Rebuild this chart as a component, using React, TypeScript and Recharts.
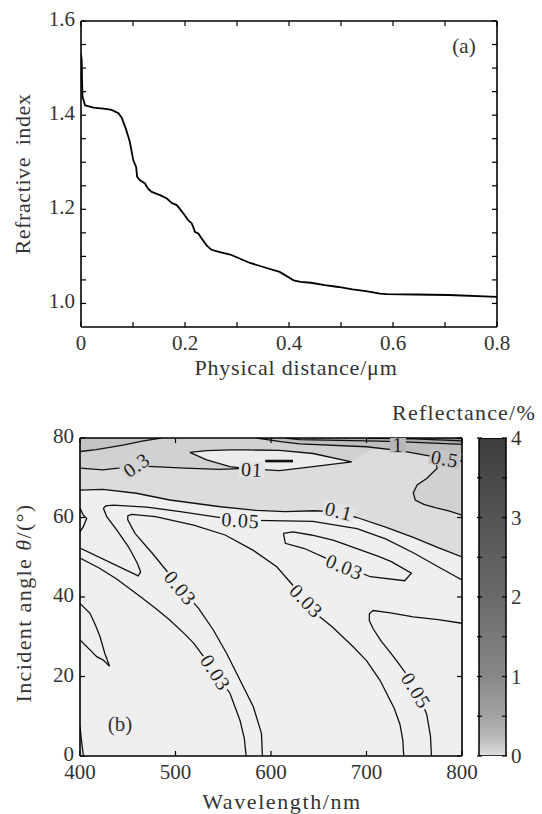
import {
  Area,
  Bar,
  CartesianGrid,
  ComposedChart,
  Line,
  LineChart,
  Scatter,
  XAxis,
  YAxis,
} from "recharts"

// ---- panel (a): refractive index vs physical distance ----
const distance = [
  0, 0.0013, 0.002, 0.003, 0.0077, 0.024, 0.043, 0.059, 0.072, 0.078, 0.085, 0.091, 0.094,
  0.0975, 0.1006, 0.106, 0.108, 0.113, 0.123, 0.129, 0.136, 0.152, 0.165, 0.174, 0.184, 0.19,
  0.197, 0.206, 0.213, 0.217, 0.219, 0.226, 0.232, 0.242, 0.251, 0.267, 0.287, 0.306, 0.325,
  0.349, 0.382, 0.409, 0.422, 0.442, 0.469, 0.495, 0.522, 0.548, 0.575, 0.588, 0.641, 0.707, 0.8,
]
const refIndex = [
  1.53, 1.517, 1.474, 1.439, 1.421, 1.416, 1.414, 1.411, 1.404, 1.395, 1.375, 1.354, 1.343,
  1.322, 1.304, 1.29, 1.269, 1.262, 1.255, 1.244, 1.237, 1.23, 1.223, 1.214, 1.209, 1.201,
  1.191, 1.177, 1.17, 1.159, 1.152, 1.148, 1.138, 1.123, 1.114, 1.109, 1.104, 1.095, 1.086,
  1.078, 1.067, 1.049, 1.046, 1.044, 1.039, 1.035, 1.03, 1.026, 1.021, 1.02, 1.019, 1.018, 1.014,
]
const distTicks = [0, 0.1, 0.2, 0.3, 0.4, 0.5, 0.6, 0.7, 0.8]
const distLabelled = [0, 0.2, 0.4, 0.6, 0.8]
const indexTicks = [1.0, 1.05, 1.1, 1.15, 1.2, 1.25, 1.3, 1.35, 1.4, 1.45, 1.5, 1.55, 1.6]
const indexLabelled = [1.0, 1.2, 1.4, 1.6]

// ---- panel (b): reflectance contours, [wavelength nm, angle deg] ----
const wlTicks = [400, 500, 600, 700, 800]
const angleTicks = [0, 20, 40, 60, 80]
const reflTicks = [0, 0.5, 1, 1.5, 2, 2.5, 3, 3.5, 4]
const reflLabelled = [0, 1, 2, 3, 4]

const contour01 = [
  [400, 66.9], [424, 67.1], [459, 66.1], [494, 64.4], [547, 62.7], [585, 61.8], [615, 61.5],
  [645, 61.7], [668, 61.5], [690, 60], [720, 57.6], [749, 55], [775, 52.4], [800, 50.1],
]
const contour005 = [
  [400, 52.3], [461, 45.3], [463.5, 46.3], [460, 48.5], [456, 50.3], [450.6, 52.7], [438.4, 56.9],
  [428, 60.2], [424.5, 62.3], [427, 62.9], [435, 63.1], [470, 62.6], [505, 61.5], [540, 60.2],
  [568, 59.3], [600, 59.2], [644, 59], [690, 57.2], [720, 54.6], [750, 51], [775, 47.6], [800, 44.3],
]
const contourU = [
  [591, 0], [590, 5.7], [581.5, 12.4], [567.5, 19.1], [553.6, 25.8], [539.6, 31.7], [524, 37.2],
  [505, 42.3], [490, 46.8], [475.7, 51], [457.6, 56], [450, 59.4], [450, 60.4], [454, 60.8],
  [479, 60.2], [519, 58.1], [552, 55.6], [581, 51.8], [606, 47.6], [630, 41], [651, 35],
  [664, 32.5], [686, 27.5], [700, 24], [714, 19.1], [729, 12], [735, 8], [738, 4], [739, 0],
]
const contourLow = [
  [400, 49.8], [420, 47.3], [438, 44.6], [463, 40.1], [480, 37], [494, 34.2], [510, 30.6],
  [519, 28.4], [530, 24.8], [542, 21], [557, 15.8], [567.5, 9], [572, 4.5], [574, 0],
]
const contourRight = [
  [768, 0], [767, 5], [763, 10.5], [758, 13.5], [752, 16.5], [745, 19.5], [733, 23.5], [725, 26],
  [715, 29], [707, 32], [703, 34], [703, 35.8], [707, 36.6], [725, 36], [749, 35], [775, 34.3],
  [800, 33.4],
]
const loop003 = [
  [613, 56], [615, 53.5], [635, 52.2], [662, 49.3], [679, 47.6], [704, 45.1], [740, 44.1],
  [747, 46], [726, 48.9], [714, 50.1], [679, 53.1], [665, 54.3], [642, 55.6], [623, 56.4], [613, 56],
]
const tongue = [
  [400, 38.4], [410.5, 35.9], [416, 33], [421, 30], [426, 25.8], [431, 22.6], [424, 24.2],
  [417.5, 25], [410.5, 26.7], [405, 28], [400, 29.2],
]
const edgeBump = [[400, 62.3], [403.5, 60.6], [407, 59.8], [403.5, 57.7], [400, 56.4]]
const cornerLine = [[400, 7.4], [401.5, 4], [403.5, 0]]
const line03 = [
  [400, 72.4], [424, 72], [440, 72.4], [459, 73], [477, 72.8], [510, 72.4], [546, 72.1], [567, 72.3],
]
const band03Edge = [
  [400, 72.4], [424, 72], [440, 72.4], [459, 73], [477, 72.8], [510, 72.4], [546, 72.1], [567, 72.3],
  [590, 71.9], [609, 71.8], [644, 72.8], [684.5, 74], [700, 76.5], [715, 78.5], [725, 80],
]
const wiggle03 = [
  [772, 74.6], [774, 72.4], [763, 69.8], [753, 68.2], [749, 66.2], [751, 64.4], [760, 63.3],
  [772, 62.5], [787, 61.6], [800, 60.6],
]
const lineTopLeft = [[400, 76.6], [417, 77.1], [445, 78.2], [465, 79.2], [485, 80]]
const line05 = [[585, 80], [610, 79.1], [630, 78.5], [700, 77.8], [735, 76.8], [770, 75.3], [800, 74.2]]
const line1 = [[615, 80], [630, 79.6], [700, 79.3], [733, 79.1], [800, 78.4]]
const line2 = [[700, 80], [750, 79.8], [800, 79.3]]
const loopWl = [515, 532.6, 557, 575, 609, 644, 684.5]
const loopTop = [76.4, 76.8, 77, 77, 76.9, 76.1, 74]
const loopBottom = [76.4, 74.5, 72.8, 72.3, 71.8, 72.8, 74]
const dashInLoop = [[594, 74.2], [623, 74.2]]

const labelText = ["0.3", "01", "0.1", "0.05", "0.03", "0.03", "0.03", "0.03", "0.05", "0.5", "1"]
const labelWl = [459, 580, 671, 568, 677, 505, 637, 542, 752, 782, 733]
const labelAng = [73.2, 72.1, 61.6, 59.3, 47.6, 42.3, 39, 21, 16.5, 74.8, 78.3]
const labelTilt = [-35, 3, 14, 4, 22, 50, 46, 57, 58, 10, 0]

// styles
const SERIF = "'Liberation Serif', 'Times New Roman', serif"
const INK = "#333"
const labelHalo = ["#d3d3d3", "#e4e4e4", "#e3e3e3", "#efefef", "#efefef", "#efefef", "#efefef", "#efefef", "#efefef", "#c4c4c4", "#b6b6b6"]

const profile = distance.map((d, i) => ({ d, n: refIndex[i] }))
const pts = (arr: number[][]) => arr.map(([wl, ang]) => ({ wl, ang }))
const band = (arr: number[][]) => arr.map(([wl, ang]) => ({ wl, band: [ang, 80] }))
const loopFill = loopWl.map((wl, i) => ({ wl, band: [loopBottom[i], loopTop[i]] }))
const loopLine = [
  ...loopWl.map((wl, i) => ({ wl, ang: loopTop[i] })),
  ...loopWl.map((wl, i) => ({ wl, ang: loopBottom[i] })).reverse(),
]
const labels = labelText.map((text, i) => ({
  text,
  wl: labelWl[i],
  ang: labelAng[i],
  tilt: labelTilt[i],
  halo: labelHalo[i],
}))

const near = (list: number[], v: number) => list.some((m) => Math.abs(m - v) < 1e-6)

function axisTick(
  side: "bottom" | "top" | "left" | "right",
  labelled: number[] = [],
  fmt: (v: number) => string = String,
  backTick = 0
) {
  return (p: any) => {
    const { x, y, payload } = p
    const v = payload.value as number
    const len = 5
    const dx = side === "left" ? len : side === "right" ? -len : 0
    const dy = side === "bottom" ? -len : side === "top" ? len : 0
    let label = null
    if (near(labelled, v)) {
      const common = { fontFamily: SERIF, fontSize: 21, fill: INK }
      if (side === "bottom")
        label = <text x={x} y={y + 23} textAnchor="middle" {...common}>{fmt(v)}</text>
      else if (side === "left")
        label = <text x={x - 6} y={y + 5} textAnchor="end" {...common}>{fmt(v)}</text>
      else if (side === "right")
        label = <text x={x + 4} y={y + 7} textAnchor="start" {...common}>{fmt(v)}</text>
    }
    return (
      <g>
        <line x1={x} y1={y} x2={x + dx} y2={y + dy} stroke="#000" strokeWidth={1.2} />
        {backTick > 0 && (
          <line x1={x - backTick} y1={y} x2={x - backTick + len} y2={y} stroke="#000" strokeWidth={1.2} />
        )}
        {label}
      </g>
    )
  }
}

function ContourLabel(p: any) {
  const { cx, cy, payload } = p
  if (cx == null || cy == null) return <g />
  const w = [...payload.text].reduce((s: number, ch: string) => s + (ch === "." ? 5 : 10), 0) + 6
  return (
    <g transform={`rotate(${payload.tilt} ${cx} ${cy})`}>
      <rect x={cx - w / 2} y={cy - 8} width={w} height={16} fill={payload.halo} />
      <text
        x={cx}
        y={cy}
        dy="0.35em"
        textAnchor="middle"
        fontFamily={SERIF}
        fontSize={20}
        letterSpacing={0.8}
        fill="#1e1e1e"
      >
        {payload.text}
      </text>
    </g>
  )
}

function Title({ x, y, rotate = 0, size = 22, spacing = 0, children }: any) {
  return (
    <div
      style={{
        position: "absolute",
        left: x,
        top: y,
        transform: `translate(-50%, -50%) rotate(${rotate}deg)`,
        fontFamily: SERIF,
        fontSize: size,
        letterSpacing: spacing,
        whiteSpace: "pre",
        lineHeight: 1,
        color: INK,
      }}
    >
      {children}
    </div>
  )
}

const frame = { stroke: "#000", strokeWidth: 1.6 }

function contourLine(key: string, arr: number[][], width = 1.3) {
  return (
    <Line
      key={key}
      data={pts(arr)}
      dataKey="ang"
      type="linear"
      stroke="#111"
      strokeWidth={width}
      dot={false}
      activeDot={false}
      isAnimationActive={false}
    />
  )
}

function fillArea(key: string, data: any[], color: string) {
  return (
    <Area
      key={key}
      data={data}
      dataKey="band"
      type="linear"
      stroke="none"
      fill={color}
      fillOpacity={1}
      dot={false}
      activeDot={false}
      isAnimationActive={false}
    />
  )
}

export default function App() {
  return (
    <div style={{ position: "absolute", left: 0, top: 0, width: 542, height: 814, background: "#fff" }}>
      {/* panel (a) */}
      <div style={{ position: "absolute", left: 0, top: 0 }}>
        <LineChart width={542} height={390} margin={{ top: 16, right: 40, bottom: 33, left: 41 }}>
          <XAxis
            xAxisId="b"
            type="number"
            dataKey="d"
            domain={[0, 0.8]}
            ticks={distTicks}
            interval={0}
            height={30}
            tickSize={0}
            tickMargin={0}
            tickLine={false}
            axisLine={frame}
            tick={axisTick("bottom", distLabelled, (v) => (v === 0 ? "0" : v.toFixed(1)))}
            allowDataOverflow
          />
          <XAxis
            xAxisId="t"
            orientation="top"
            type="number"
            dataKey="d"
            domain={[0, 0.8]}
            ticks={distTicks}
            interval={0}
            height={5}
            tickSize={0}
            tickMargin={0}
            tickLine={false}
            axisLine={frame}
            tick={axisTick("top")}
            allowDataOverflow
          />
          <YAxis
            yAxisId="l"
            type="number"
            domain={[0.95, 1.6]}
            ticks={indexTicks}
            interval={0}
            width={40}
            tickSize={0}
            tickMargin={0}
            tickLine={false}
            axisLine={frame}
            tick={axisTick("left", indexLabelled, (v) => v.toFixed(1))}
            allowDataOverflow
          />
          <YAxis
            yAxisId="r"
            orientation="right"
            type="number"
            domain={[0.95, 1.6]}
            ticks={indexTicks}
            interval={0}
            width={5}
            tickSize={0}
            tickMargin={0}
            tickLine={false}
            axisLine={frame}
            tick={axisTick("right")}
            allowDataOverflow
          />
          <Line
            xAxisId="t"
            yAxisId="r"
            data={profile}
            dataKey="n"
            stroke="none"
            dot={false}
            activeDot={false}
            isAnimationActive={false}
          />
          <Line
            xAxisId="b"
            yAxisId="l"
            data={profile}
            dataKey="n"
            type="linear"
            stroke="#000"
            strokeWidth={1.8}
            dot={false}
            activeDot={false}
            isAnimationActive={false}
          />
        </LineChart>
      </div>
      <Title x={23} y={174} rotate={-90} spacing={0.6}>
        {"Refractive\u2002index"}
      </Title>
      <Title x={296} y={368} spacing={0.8}>
        Physical distance/μm
      </Title>
      <Title x={464} y={46} size={21}>
        (a)
      </Title>

      {/* panel (b) */}
      <div style={{ position: "absolute", left: 0, top: 400 }}>
        <ComposedChart width={542} height={414} margin={{ top: 33, right: 75, bottom: 28, left: 40 }}>
          <CartesianGrid fill="#efefef" stroke="none" horizontal={false} vertical={false} />
          <XAxis
            type="number"
            dataKey="wl"
            domain={[400, 800]}
            ticks={wlTicks}
            interval={0}
            height={30}
            tickSize={0}
            tickMargin={0}
            tickLine={false}
            axisLine={frame}
            tick={axisTick("bottom", wlTicks)}
            allowDataOverflow
          />
          <XAxis
            xAxisId="t"
            orientation="top"
            type="number"
            dataKey="wl"
            domain={[400, 800]}
            ticks={wlTicks}
            interval={0}
            height={5}
            tickSize={0}
            tickMargin={0}
            tickLine={false}
            axisLine={frame}
            tick={axisTick("top")}
            allowDataOverflow
          />
          <YAxis
            type="number"
            domain={[0, 80]}
            ticks={angleTicks}
            interval={0}
            width={40}
            tickSize={0}
            tickMargin={0}
            tickLine={false}
            axisLine={frame}
            tick={axisTick("left", angleTicks)}
            allowDataOverflow
          />
          <YAxis
            yAxisId="r"
            orientation="right"
            type="number"
            domain={[0, 80]}
            ticks={angleTicks}
            interval={0}
            width={5}
            tickSize={0}
            tickMargin={0}
            tickLine={false}
            axisLine={frame}
            tick={axisTick("right")}
            allowDataOverflow
          />
          <Line
            xAxisId="t"
            yAxisId="r"
            data={pts(contour01)}
            dataKey="ang"
            stroke="none"
            dot={false}
            activeDot={false}
            isAnimationActive={false}
          />
          {fillArea("fA", band(contour01), "#dcdcdc")}
          {fillArea("fB1", band(band03Edge), "#d1d1d1")}
          {fillArea("fB2", band(wiggle03), "#d1d1d1")}
          {fillArea("fC", band(lineTopLeft), "#c4c4c4")}
          {fillArea("fD", band(line05), "#bebebe")}
          {fillArea("fE", band(line1), "#a9a9a9")}
          {fillArea("fF", band(line2), "#8f8f8f")}
          {fillArea("fL", loopFill, "#ececec")}
          {contourLine("c01", contour01)}
          {contourLine("c005", contour005)}
          {contourLine("cU", contourU)}
          {contourLine("cLow", contourLow)}
          {contourLine("cR", contourRight)}
          {contourLine("loop003", loop003)}
          {contourLine("tongue", tongue)}
          {contourLine("bump", edgeBump)}
          {contourLine("corner", cornerLine)}
          {contourLine("l03", line03)}
          {contourLine("w03", wiggle03)}
          {contourLine("lTL", lineTopLeft)}
          {contourLine("l05", line05)}
          {contourLine("l1", line1)}
          {contourLine("l2", line2)}
          {contourLine("dash", dashInLoop, 2.6)}
          <Line
            data={loopLine}
            dataKey="ang"
            type="linear"
            stroke="#111"
            strokeWidth={1.3}
            dot={false}
            activeDot={false}
            isAnimationActive={false}
          />
          <Scatter data={labels} dataKey="ang" shape={ContourLabel} isAnimationActive={false} />
        </ComposedChart>
      </div>

      {/* colour bar */}
      <div style={{ position: "absolute", left: 470, top: 400 }}>
        <ComposedChart
          width={72}
          height={414}
          data={[{ k: "R", v: 4 }]}
          margin={{ top: 38, right: 5, bottom: 58, left: 7 }}
        >
          <defs>
            <linearGradient id="reflGrad" x1="0" y1="1" x2="0" y2="0">
              <stop offset="0" stopColor="#dedede" />
              <stop offset="0.06" stopColor="#bababa" />
              <stop offset="0.125" stopColor="#a3a3a3" />
              <stop offset="0.25" stopColor="#888888" />
              <stop offset="0.5" stopColor="#6a6a6a" />
              <stop offset="0.75" stopColor="#545454" />
              <stop offset="1" stopColor="#3c3c3c" />
            </linearGradient>
          </defs>
          <XAxis dataKey="k" type="category" hide />
          <YAxis
            orientation="right"
            type="number"
            domain={[0, 4]}
            ticks={reflTicks}
            interval={0}
            width={30}
            tickSize={0}
            tickMargin={0}
            tickLine={false}
            axisLine={false}
            tick={axisTick("right", reflLabelled, String, 30)}
            allowDataOverflow
          />
          <Bar
            dataKey="v"
            barSize={30}
            fill="url(#reflGrad)"
            stroke="#000"
            strokeWidth={1.5}
            isAnimationActive={false}
          />
        </ComposedChart>
      </div>

      <Title x={464} y={413} spacing={1.2}>
        Reflectance/%
      </Title>
      <Title x={282} y={802} spacing={1.6}>
        Wavelength/nm
      </Title>
      <Title x={24} y={603} rotate={-90} spacing={1.4}>
        <span>Incident angle </span>
        <i>θ</i>
        <span>/(°)</span>
      </Title>
      <Title x={120} y={724} size={21}>
        (b)
      </Title>
    </div>
  )
}
